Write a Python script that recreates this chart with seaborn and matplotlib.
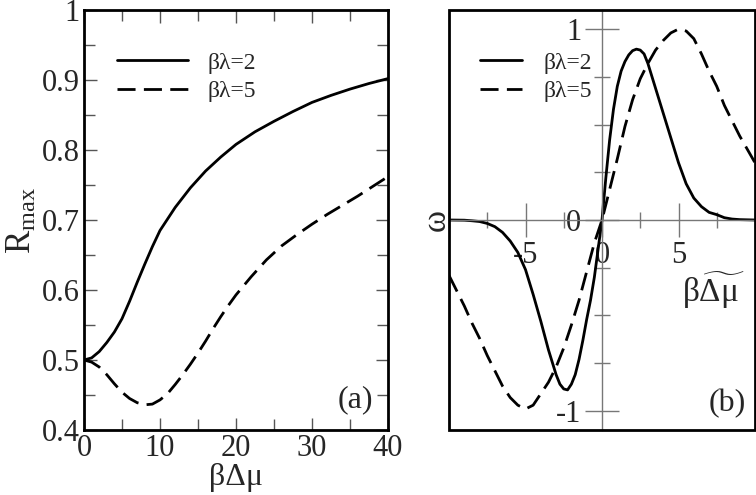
import pandas as pd
import matplotlib
matplotlib.use("Agg")
import matplotlib.pyplot as plt
from matplotlib.patches import Rectangle
from matplotlib.ticker import MultipleLocator, FixedLocator, FuncFormatter
import seaborn as sns

# panel (a): R_max against beta*Delta mu
a_x_bl2 = [0, 1, 2, 3, 4, 5, 6, 7, 8, 9, 10, 12, 14, 16, 18, 20,
           22.5, 25, 27.5, 30, 32.5, 35, 37.5, 40]
a_r_bl2 = [0.5, 0.503, 0.512, 0.525, 0.54, 0.559, 0.584, 0.611, 0.637, 0.662,
           0.685, 0.718, 0.746, 0.77, 0.79, 0.808, 0.826, 0.841, 0.855, 0.868,
           0.878, 0.887, 0.895, 0.902]
a_x_bl5 = [0, 1, 2, 3, 4, 5, 6, 7, 8, 9, 10, 11, 12, 13, 14, 15, 16, 17, 18,
           19, 20, 22, 24, 26, 28, 30, 32, 34, 36, 38, 40]
a_r_bl5 = [0.5, 0.497, 0.49, 0.479, 0.466, 0.454, 0.445, 0.439, 0.436, 0.437,
           0.443, 0.452, 0.465, 0.479, 0.494, 0.51, 0.527, 0.545, 0.562, 0.578,
           0.593, 0.619, 0.643, 0.663, 0.679, 0.694, 0.708, 0.721, 0.734,
           0.748, 0.762]

# panel (b): omega against beta*Delta mu~
b_x_bl2 = [-10, -9, -8.5, -8, -7.5, -7, -6.5, -6, -5.5, -5, -4.5, -4, -3.5, -3,
           -2.75, -2.5, -2.25, -2, -1.75, -1.5, -1.25, -1, -0.75, -0.5, -0.25,
           0, 0.25, 0.5, 0.75, 1, 1.25, 1.5, 1.75, 2, 2.25, 2.5, 2.75, 3, 3.5,
           4, 4.5, 5, 5.5, 6, 6.5, 7, 7.5, 8, 8.5, 9, 10]
b_w_bl2 = [0, -0.001, -0.004, -0.008, -0.018, -0.035, -0.065, -0.11, -0.17,
           -0.26, -0.39, -0.53, -0.68, -0.81, -0.86, -0.885, -0.89, -0.86,
           -0.81, -0.73, -0.63, -0.52, -0.42, -0.3, -0.15,
           0, 0.22, 0.42, 0.58, 0.70, 0.78, 0.83, 0.865, 0.887, 0.895, 0.89,
           0.87, 0.82, 0.69, 0.56, 0.43, 0.30, 0.19, 0.115, 0.07, 0.04, 0.028,
           0.012, 0.005, 0.002, 0]
b_x_bl5 = [-10, -9.5, -9, -8.5, -8, -7.5, -7, -6.5, -6, -5.5, -5, -4.5, -4,
           -3.5, -3, -2.5, -2, -1.5, -1, -0.5, 0, 0.5, 1, 1.5, 2, 2.5, 3, 3.5,
           4, 4.5, 5, 5.5, 6, 6.5, 7, 7.5, 8, 8.5, 9, 9.5, 10]
b_w_bl5 = [-0.29, -0.37, -0.45, -0.54, -0.62, -0.71, -0.79, -0.87, -0.93,
           -0.97, -0.99, -0.97, -0.91, -0.85, -0.77, -0.67, -0.55, -0.42,
           -0.27, -0.12, 0, 0.16, 0.32, 0.49, 0.63, 0.74, 0.82, 0.89, 0.94,
           0.98, 1.0, 0.99, 0.95, 0.87, 0.78, 0.7, 0.6, 0.52, 0.44, 0.37, 0.3]

labels = ['βλ=2', 'βλ=5']

sns.set_theme(style="white")
plt.rcParams['font.family'] = ['Liberation Serif', 'DejaVu Serif']
plt.rcParams['mathtext.fontset'] = 'custom'
plt.rcParams['mathtext.rm'] = 'Liberation Serif'
plt.rcParams['mathtext.it'] = 'Liberation Serif:italic'
plt.rcParams['axes.unicode_minus'] = False

df_a = pd.concat([
    pd.DataFrame({'x': a_x_bl2, 'y': a_r_bl2, 's': labels[0]}),
    pd.DataFrame({'x': a_x_bl5, 'y': a_r_bl5, 's': labels[1]}),
])
df_b = pd.concat([
    pd.DataFrame({'x': b_x_bl2, 'y': b_w_bl2, 's': labels[0]}),
    pd.DataFrame({'x': b_x_bl5, 'y': b_w_bl5, 's': labels[1]}),
])
dash_map = {labels[0]: '', labels[1]: (6.5, 3)}

fig = plt.figure(figsize=(7.56, 4.95), dpi=100)
ax1 = fig.add_axes([84/756, 65/495, 304/756, 420/495])
ax2 = fig.add_axes([449/756, 65/495, 306/756, 420/495])

fmt = FuncFormatter(lambda v, p: f'{v:g}')

# ---- panel (a)
sns.lineplot(data=df_a, x='x', y='y', style='s', dashes=dash_map, color='black',
             lw=2, estimator=None, sort=False, legend=False, ax=ax1)
ax1.set_xlim(0, 40)
ax1.set_ylim(0.4, 1.0)
ax1.xaxis.set_major_locator(MultipleLocator(10))
ax1.xaxis.set_minor_locator(MultipleLocator(5))
ax1.yaxis.set_major_locator(MultipleLocator(0.1))
ax1.yaxis.set_minor_locator(MultipleLocator(0.05))
ax1.xaxis.set_major_formatter(fmt)
ax1.yaxis.set_major_formatter(fmt)
ax1.tick_params(which='both', direction='in', top=True, right=True,
                bottom=True, left=True, color='#555555', width=1)
ax1.tick_params(which='major', length=9, labelsize=22, pad=3)
ax1.tick_params(which='minor', length=8)
for sp in ax1.spines.values():
    sp.set_linewidth(2)
    sp.set_color('black')
ax1.set_xlabel('βΔμ', fontsize=23)
ax1.set_ylabel(r'$\mathrm{R_{max}}$', fontsize=25)
ax1.xaxis.set_label_coords(0.5, -0.078)
ax1.yaxis.set_label_coords(-0.15, 0.5)
h1 = ax1.get_lines()[:2]
ax1.legend(h1, labels, loc='upper left', bbox_to_anchor=(0.11, 0.9),
           frameon=False, fontsize=17, handlelength=3.0, handletextpad=0.8,
           labelspacing=0.3, borderpad=0, borderaxespad=0)
ax1.text(35.7, 0.443, '(a)', fontsize=23, ha='center', va='center')

# ---- panel (b)
sns.lineplot(data=df_b, x='x', y='y', style='s', dashes=dash_map, color='black',
             lw=2, estimator=None, sort=False, legend=False, ax=ax2)
ax2.set_xlim(-10, 10)
ax2.set_ylim(-1.1, 1.1)
ax2.spines['left'].set_position('zero')
ax2.spines['bottom'].set_position('zero')
for side in ['left', 'bottom']:
    ax2.spines[side].set_color('#777777')
    ax2.spines[side].set_linewidth(1)
for side in ['top', 'right']:
    ax2.spines[side].set_visible(False)
ax2.add_patch(Rectangle((0, 0), 1, 1, transform=ax2.transAxes, fill=False,
                        lw=2, ec='black', clip_on=False, zorder=5))
ax2.xaxis.set_major_locator(FixedLocator([-5, 0, 5]))
ax2.xaxis.set_minor_locator(MultipleLocator(2.5))
ax2.yaxis.set_major_locator(FixedLocator([-1, 0, 1]))
ax2.yaxis.set_minor_locator(MultipleLocator(0.25))
ax2.xaxis.set_major_formatter(fmt)
ax2.yaxis.set_major_formatter(fmt)
ax2.tick_params(which='both', direction='inout', color='#777777', width=1,
                bottom=True, left=True)
ax2.tick_params(which='major', length=24, labelsize=22, pad=3)
ax2.tick_params(which='minor', length=12)
ax2.set_xlabel('')
ax2.set_ylabel('')
ax2.text(7.3, -0.37, r'$\mathrm{\beta}\widetilde{\mathrm{\Delta\mu}}$',
         fontsize=24, ha='center', va='center')
fig.text(437/756, 1 - 220/495, 'ω', rotation=90, fontsize=24,
         ha='center', va='center')
h2 = ax2.get_lines()[:2]
ax2.legend(h2, labels, loc='upper left', bbox_to_anchor=(0.1, 0.9),
           frameon=False, fontsize=17, handlelength=1.8, handletextpad=0.9,
           labelspacing=0.3, borderpad=0, borderaxespad=0)
ax2.text(8.2, -0.96, '(b)', fontsize=23, ha='center', va='center')

fig.savefig('out.png', dpi=100)
